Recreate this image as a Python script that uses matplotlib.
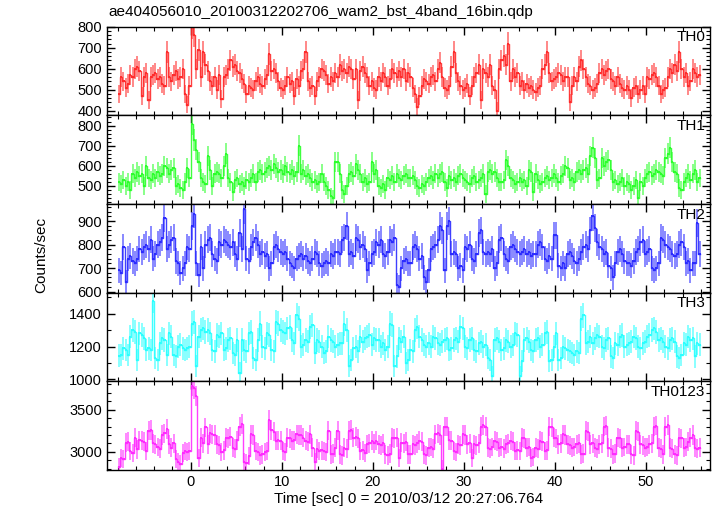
import matplotlib
matplotlib.use('Agg')
import matplotlib.pyplot as plt
import numpy as np
from matplotlib.ticker import MultipleLocator

plt.rcParams['font.family'] = ['Liberation Sans', 'DejaVu Sans']

# 0.25 s bins, -8 s .. 56 s
dt = 0.25
t0 = -8.0

th0 = [
    480, 560, 540, 510, 530, 570, 560, 600, 610, 590, 470, 560, 580, 450, 560, 570,
    580, 550, 560, 530, 520, 680, 560, 540, 570, 590, 550, 560, 600, 480, 430, 520,
    800, 760, 600, 690, 560, 680, 620, 590, 540, 520, 560, 500, 570, 455, 560, 570,
    600, 640, 610, 620, 590, 580, 550, 530, 480, 520, 510, 500, 540, 560, 530, 520,
    550, 570, 670, 590, 600, 580, 540, 510, 500, 520, 560, 530, 540, 470, 550, 520,
    590, 600, 680, 540, 510, 520, 470, 540, 560, 600, 590, 570, 530, 560, 540, 580,
    560, 620, 590, 600, 580, 610, 600, 550, 600, 450, 590, 610, 580, 560, 520, 540,
    510, 500, 560, 540, 580, 560, 520, 550, 600, 580, 560, 590, 560, 600, 540, 580,
    560, 510, 480, 420, 470, 520, 550, 540, 530, 560, 570, 540, 600, 630, 560, 510,
    500, 520, 610, 680, 580, 540, 520, 500, 510, 530, 470, 520, 560, 580, 620, 450,
    600, 580, 560, 620, 520, 500, 400, 600, 640, 660, 620, 720, 540, 600, 560, 580,
    520, 540, 500, 530, 510, 520, 500, 490, 510, 520, 600, 620, 680, 580, 540, 550,
    560, 580, 570, 540, 560, 560, 440, 520, 560, 540, 610, 640, 600, 560, 530, 520,
    500, 510, 530, 580, 600, 570, 590, 600, 550, 540, 520, 560, 530, 510, 500, 520,
    500, 460, 510, 520, 480, 500, 520, 480, 560, 550, 570, 580, 560, 520, 480, 500,
    510, 560, 600, 580, 620, 590, 680, 600, 560, 580, 520, 540, 600, 580, 560, 570,
]

th1 = [
    520, 510, 530, 500, 520, 480, 560, 540, 570, 550, 560, 500, 600, 540, 530, 560,
    540, 570, 550, 560, 600, 590, 560, 580, 590, 500, 510, 490, 480, 520, 590, 540,
    810, 730, 680, 620, 540, 520, 510, 650, 580, 500, 560, 570, 560, 540, 600, 660,
    540, 520, 470, 530, 540, 510, 520, 500, 530, 520, 540, 560, 520, 570, 580, 560,
    570, 590, 600, 580, 610, 590, 570, 580, 560, 600, 570, 560, 580, 550, 570, 700,
    560, 580, 550, 560, 540, 520, 530, 510, 520, 560, 520, 500, 480, 450, 440, 620,
    620, 560, 480, 460, 500, 560, 570, 550, 610, 580, 560, 520, 540, 510, 520, 620,
    560, 580, 500, 490, 510, 480, 540, 530, 550, 520, 560, 540, 530, 550, 560, 540,
    540, 550, 530, 500, 490, 510, 500, 520, 540, 550, 530, 560, 540, 560, 570, 520,
    490, 550, 530, 540, 520, 550, 560, 540, 530, 520, 510, 540, 550, 520, 530, 540,
    560, 460, 570, 580, 560, 570, 540, 520, 520, 530, 630, 600, 540, 530, 510, 520,
    540, 520, 530, 500, 580, 570, 470, 560, 530, 510, 520, 540, 550, 530, 540, 560,
    540, 520, 550, 560, 600, 590, 530, 540, 520, 570, 580, 560, 580, 590, 560, 650,
    690, 640, 530, 540, 640, 600, 620, 630, 580, 520, 530, 510, 520, 540, 500, 520,
    510, 480, 500, 530, 440, 520, 500, 540, 560, 570, 550, 560, 580, 570, 560, 550,
    640, 660, 690, 620, 570, 560, 490, 480, 520, 540, 560, 530, 560, 580, 520, 540,
]

th2 = [
    690, 680, 790, 640, 740, 750, 730, 720, 740, 780, 770, 790, 800, 780, 820, 740,
    760, 800, 810, 830, 915, 780, 800, 820, 830, 730, 720, 680, 700, 720, 790, 780,
    880, 930, 720, 670, 790, 700, 800, 820, 830, 760, 740, 730, 810, 800, 820, 810,
    800, 790, 810, 760, 740, 850, 780, 950, 740, 730, 790, 810, 830, 800, 760, 770,
    750, 760, 700, 720, 790, 800, 780, 770, 760, 770, 740, 720, 710, 700, 740, 750,
    760, 740, 750, 730, 720, 740, 770, 760, 720, 710, 720, 730, 720, 760, 750, 770,
    770, 760, 820, 830, 880, 760, 770, 750, 830, 820, 790, 800, 780, 690, 720, 760,
    770, 810, 800, 820, 760, 750, 770, 820, 810, 830, 630, 620, 700, 730, 740, 720,
    720, 790, 800, 780, 740, 750, 660, 640, 690, 780, 790, 800, 820, 880, 860, 690,
    880, 900, 760, 770, 760, 700, 710, 690, 790, 780, 800, 740, 730, 760, 850, 860,
    770, 760, 770, 760, 780, 700, 720, 820, 830, 760, 740, 730, 790, 800, 780, 770,
    760, 770, 780, 760, 770, 750, 760, 760, 800, 810, 790, 740, 730, 750, 740, 840,
    840, 710, 700, 720, 700, 760, 770, 750, 730, 720, 740, 770, 790, 800, 780, 860,
    920, 870, 810, 790, 780, 760, 770, 710, 700, 660, 720, 770, 780, 760, 730, 720,
    720, 710, 730, 770, 780, 810, 820, 760, 770, 780, 700, 690, 700, 720, 830, 820,
    800, 790, 780, 760, 750, 760, 800, 810, 790, 720, 730, 690, 720, 720, 890, 760,
]

th3 = [
    1145, 1150, 1190, 1180, 1150, 1260, 1300, 1290, 1120, 1280, 1270, 1250, 1180, 1190, 1180, 1480,
    1130, 1120, 1220, 1250, 1240, 1150, 1280, 1260, 1150, 1140, 1200, 1210, 1190, 1180, 1190, 1200,
    1340, 1350, 1080, 1260, 1300, 1310, 1290, 1300, 1280, 1180, 1170, 1270, 1260, 1280, 1180, 1190,
    1240, 1250, 1160, 1150, 1240, 1040, 1240, 1180, 1170, 1280, 1290, 1130, 1120, 1240, 1340, 1200,
    1190, 1280, 1270, 1180, 1170, 1350, 1340, 1300, 1290, 1280, 1310, 1320, 1240, 1220, 1390, 1370,
    1200, 1210, 1240, 1230, 1320, 1330, 1160, 1240, 1230, 1200, 1160, 1170, 1260, 1240, 1230, 1200,
    1210, 1220, 1220, 1340, 1300, 1080, 1120, 1190, 1200, 1170, 1260, 1230, 1250, 1260, 1270, 1210,
    1250, 1240, 1240, 1200, 1220, 1180, 1200, 1340, 1330, 1080, 1140, 1250, 1230, 1260, 1100, 1120,
    1180, 1170, 1300, 1320, 1260, 1240, 1210, 1200, 1220, 1200, 1260, 1250, 1220, 1210, 1230, 1240,
    1250, 1180, 1190, 1240, 1250, 1230, 1320, 1310, 1200, 1190, 1240, 1250, 1180, 1170, 1220, 1230,
    1200, 1210, 1130, 1120, 1020, 1240, 1250, 1230, 1180, 1190, 1240, 1230, 1200, 1210, 1280, 1270,
    1020, 1110, 1240, 1250, 1230, 1180, 1170, 1240, 1250, 1200, 1210, 1280, 1290, 1110, 1120, 1200,
    1280, 1120, 1130, 1200, 1190, 1180, 1170, 1160, 1150, 1170, 1160, 1370, 1390, 1220, 1230, 1260,
    1220, 1250, 1270, 1260, 1200, 1190, 1240, 1250, 1140, 1130, 1220, 1210, 1260, 1270, 1200, 1210,
    1220, 1230, 1260, 1250, 1200, 1190, 1220, 1230, 1260, 1270, 1300, 1310, 1290, 1240, 1250, 1230,
    1200, 1190, 1240, 1250, 1230, 1140, 1130, 1150, 1220, 1210, 1260, 1240, 1250, 1140, 1220, 1210,
]

th0123 = [
    2820, 2930, 2920, 3110, 3120, 3010, 2990, 3170, 3030, 3140, 3130, 3120, 3010, 3250, 3260, 3100,
    3090, 3060, 3040, 3200, 3220, 3270, 3090, 3050, 3100, 2920, 2880, 2860, 2990, 3010, 3000, 3010,
    3780, 3750, 3660, 2930, 3170, 3100, 3290, 3090, 3220, 3210, 3200, 3090, 3080, 3000, 3020, 3170,
    3160, 3180, 3050, 3040, 3140, 3300, 3330, 2880, 2870, 2950, 3210, 3200, 3010, 3000, 2960, 2970,
    3000, 3010, 3380, 3260, 3240, 3130, 3140, 3130, 3010, 3000, 3170, 3160, 3130, 3140, 3210, 3200,
    3200, 3170, 3130, 3120, 3210, 3050, 2880, 3040, 3010, 3020, 3010, 3000, 3250, 2970, 2980, 3050,
    3250, 2970, 2960, 3050, 3040, 3250, 3260, 3170, 3180, 3160, 3010, 3020, 2990, 3090, 3100, 3130,
    3100, 3130, 3090, 3080, 3100, 2970, 2960, 2980, 3170, 3160, 3170, 2930, 3110, 3100, 3120, 2970,
    2970, 3090, 3080, 3100, 3130, 3120, 2970, 2960, 3050, 3060, 3040, 3210, 3220, 3200, 2800, 3300,
    3300, 3140, 3130, 3010, 3000, 3090, 3080, 3210, 3200, 3090, 3100, 2930, 3090, 3080, 3100, 3300,
    3320, 3300, 3050, 3040, 3060, 3130, 3120, 3050, 3060, 3040, 3090, 3100, 3130, 3120, 3010, 3020,
    3010, 3170, 3160, 3050, 3060, 2930, 2940, 3050, 3040, 3130, 3120, 3010, 3020, 3300, 3290, 3170,
    3160, 3090, 3100, 3210, 3200, 3090, 3080, 3050, 3060, 3090, 3100, 2970, 2980, 3250, 3240, 3090,
    3100, 3050, 3040, 3090, 3100, 3300, 3310, 3050, 3040, 2970, 2980, 3170, 3160, 3050, 3060, 3090,
    3090, 2970, 2960, 3250, 3240, 3090, 3080, 3050, 3060, 3090, 3100, 3300, 3310, 3050, 3040, 2970,
    3300, 3320, 3050, 3040, 2970, 2960, 3170, 3160, 3050, 3060, 3120, 3170, 3200, 3050, 3040, 3050,
]

names = ['TH0', 'TH1', 'TH2', 'TH3', 'TH0123']
series = [th0, th1, th2, th3, th0123]
colors = ['#ff2a2a', '#2aff2a', '#2a2aff', '#2affff', '#ff2aff']
ylims = [(378, 800), (410, 850), (595, 972), (988, 1527), (2786, 3833)]
ymaj = [100, 100, 100, 200, 500]
ymin = [20, 20, 20, 100, 100]

fig = plt.figure(figsize=(7.17, 5.16), dpi=100)
gs = fig.add_gridspec(5, 1, left=0.149, right=0.990, top=0.948, bottom=0.089, hspace=0)
axes = [fig.add_subplot(gs[i]) for i in range(5)]

for i, ax in enumerate(axes):
    rate = np.array(series[i], dtype=float)
    t = t0 + dt * (np.arange(len(rate)) + 0.5)
    err = np.sqrt(rate * dt) / dt
    ax.errorbar(t, rate, yerr=err, fmt='none', ecolor=colors[i], alpha=0.6, elinewidth=1.3)
    ax.step(t, rate, where='mid', color=colors[i], lw=1.0, alpha=0.9)
    ax.errorbar(t, rate, xerr=dt / 2, fmt='none', ecolor=colors[i], elinewidth=1.4)
    ax.set_xlim(-9.2, 57.0)
    ax.set_ylim(*ylims[i])
    ax.xaxis.set_major_locator(MultipleLocator(10))
    ax.xaxis.set_minor_locator(MultipleLocator(2))
    ax.yaxis.set_major_locator(MultipleLocator(ymaj[i]))
    ax.yaxis.set_minor_locator(MultipleLocator(ymin[i]))
    ax.tick_params(which='both', direction='in', top=True, right=True, labelsize=10.5)
    ax.tick_params(which='major', length=6, width=1)
    ax.tick_params(which='minor', length=3, width=0.8)
    for s in ax.spines.values():
        s.set_linewidth(1.0)
    if i < 4:
        ax.tick_params(labelbottom=False)
    ax.text(0.992, 0.96, names[i], transform=ax.transAxes, ha='right', va='top', fontsize=11)

axes[-1].set_xlabel('Time [sec] 0 = 2010/03/12 20:27:06.764', fontsize=11, labelpad=2)
fig.text(0.058, 0.505, 'Counts/sec', rotation=90, ha='center', va='center', fontsize=11)
fig.text(0.151, 0.977, 'ae404056010_20100312202706_wam2_bst_4band_16bin.qdp',
         ha='left', va='center', fontsize=11)

fig.savefig('out.png', dpi=100)
